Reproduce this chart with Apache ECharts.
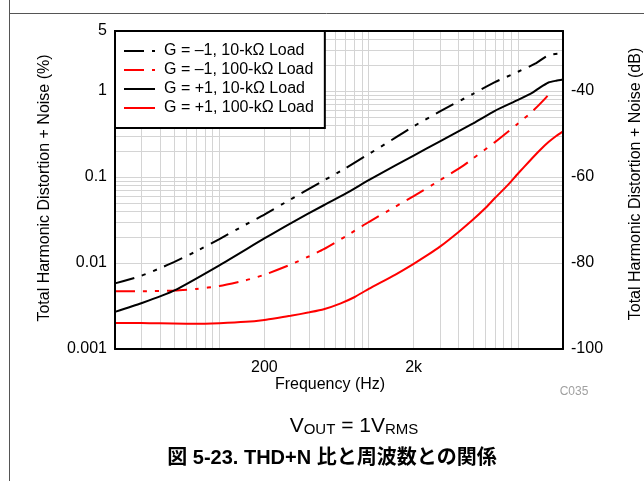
<!DOCTYPE html>
<html>
<head>
<meta charset="utf-8">
<script src="https://cdn.jsdelivr.net/npm/echarts@6/dist/echarts.min.js"></script>
<style>
html,body{margin:0;padding:0;background:#fff;}
#chart{width:644px;height:481px;}
</style>
</head>
<body>
<div id="chart"></div>
<script>
// ---- Data (frequency in Hz, THD+N in %) ----
const seriesNames = [
  'G = \u20131, 10-k\u03A9 Load',
  'G = \u20131, 100-k\u03A9 Load',
  'G = +1, 10-k\u03A9 Load',
  'G = +1, 100-k\u03A9 Load'
];
const freqNeg1_10k = [20, 30, 40, 50, 70, 100, 150, 200, 300, 500, 700, 1000, 1500, 2000, 3000, 5000, 7000, 10000, 13000, 16000, 20000];
const thdNeg1_10k  = [0.0058, 0.0071, 0.0087, 0.0103, 0.0137, 0.019, 0.028, 0.0366, 0.055, 0.091, 0.127, 0.185, 0.285, 0.39, 0.58, 0.93, 1.27, 1.68, 2.08, 2.62, 2.76];

const freqNeg1_100k = [20, 30, 50, 70, 100, 150, 200, 300, 400, 500, 700, 1000, 1500, 2000, 3000, 4300, 5000, 7000, 10000, 12600, 15000, 16800];
const thdNeg1_100k  = [0.0047, 0.0047, 0.0048, 0.0050, 0.0054, 0.0063, 0.0073, 0.0096, 0.0120, 0.0145, 0.0204, 0.030, 0.045, 0.060, 0.092, 0.136, 0.165, 0.255, 0.42, 0.59, 0.80, 1.0];

const freqPos1_10k = [20, 30, 50, 100, 200, 300, 500, 700, 1000, 1500, 2000, 3000, 5000, 7000, 10000, 12500, 14000, 16000, 18000, 20000];
const thdPos1_10k  = [0.0027, 0.0034, 0.0048, 0.0094, 0.0193, 0.029, 0.047, 0.064, 0.092, 0.136, 0.178, 0.26, 0.42, 0.59, 0.79, 0.96, 1.1, 1.26, 1.32, 1.36];

const freqPos1_100k = [20, 30, 40, 60, 80, 100, 150, 200, 250, 300, 400, 500, 650, 800, 1000, 1500, 2000, 2500, 3000, 4000, 5000, 6000, 7000, 8500, 10000, 12000, 14000, 16000, 18000, 20000];
const thdPos1_100k  = [0.00200, 0.00201, 0.00199, 0.00197, 0.00197, 0.00199, 0.00207, 0.00218, 0.00231, 0.00243, 0.00267, 0.0029, 0.0034, 0.0040, 0.0050, 0.0073, 0.0098, 0.0125, 0.0155, 0.023, 0.032, 0.043, 0.057, 0.080, 0.11, 0.155, 0.205, 0.255, 0.30, 0.34];

// ---- Axes / ticks ----
const xMin = 20, xMax = 20000;
const yMin = 0.001, yMax = 5;
const xTickLabels = [200, 2000];
const yTickLabels = [0.001, 0.01, 0.1, 1, 5];
const dbTickLabels = [-100, -80, -60, -40];
const xGrid = [30,40,50,60,70,80,90,100,200,300,400,500,600,700,800,900,1000,2000,3000,4000,5000,6000,7000,8000,9000,10000];
const yGrid = [0.002,0.003,0.004,0.005,0.006,0.007,0.008,0.009,0.01,0.02,0.03,0.04,0.05,0.06,0.07,0.08,0.09,0.1,0.2,0.3,0.4,0.5,0.6,0.7,0.8,0.9,1,2,3,4];

const FONT = 'Liberation Sans, Arial, Helvetica, sans-serif';
const dbMin = 20 * Math.log10(yMin / 100);
const dbMax = 20 * Math.log10(yMax / 100);

function pairs(f, v) { return f.map((x, i) => [x, v[i]]); }

const dashDot = [20, 8, 4, 8, 4, 8];

const chart = echarts.init(document.getElementById('chart'), null, {renderer: 'canvas'});
const option = {
  animation: false,
  backgroundColor: '#fff',
  grid: { left: 115, right: 81, top: 31, bottom: 132, containLabel: false, show: false },
  legend: {
    data: seriesNames,
    orient: 'vertical',
    left: 115, top: 31, z: 6,
    itemWidth: 31, itemHeight: 14, itemGap: 3,
    padding: [12, 11, 12, 8],
    backgroundColor: '#fff',
    borderColor: '#000', borderWidth: 2, borderRadius: 0,
    selectedMode: false,
    itemStyle: { opacity: 0 },
    textStyle: { fontSize: 16, color: '#000', fontFamily: FONT, padding: [0, 0, 0, 4] }
  },
  xAxis: [
    {
      type: 'log', logBase: 10, min: xMin, max: xMax, position: 'bottom', z: 10,
      axisLine: { show: true, onZero: false, lineStyle: { color: '#000', width: 2 } },
      axisTick: { show: false }, splitLine: { show: false }, minorSplitLine: { show: false },
      axisLabel: {
        customValues: xTickLabels, margin: 11, fontSize: 16, color: '#000', fontFamily: FONT,
        formatter: v => (v >= 1000 ? (v / 1000) + 'k' : String(v))
      }
    },
    {
      type: 'log', logBase: 10, min: xMin, max: xMax, position: 'top', z: 10,
      axisLine: { show: true, onZero: false, lineStyle: { color: '#000', width: 2 } },
      axisTick: { show: false }, splitLine: { show: false }, axisLabel: { show: false }
    }
  ],
  yAxis: [
    {
      type: 'log', logBase: 10, min: yMin, max: yMax, position: 'left', z: 10,
      axisLine: { show: true, onZero: false, lineStyle: { color: '#000', width: 2 } },
      axisTick: { show: false }, splitLine: { show: false },
      axisLabel: {
        customValues: yTickLabels, margin: 8, fontSize: 16, color: '#000', fontFamily: FONT,
        formatter: v => String(v)
      }
    },
    {
      type: 'value', min: dbMin, max: dbMax, position: 'right', z: 10,
      axisLine: { show: true, onZero: false, lineStyle: { color: '#000', width: 2 } },
      axisTick: { show: false }, splitLine: { show: false },
      axisLabel: {
        customValues: dbTickLabels, margin: 8, fontSize: 16, color: '#000', fontFamily: FONT,
        formatter: v => String(Math.round(v))
      }
    }
  ],
  series: [
    {
      name: 'grid', type: 'line', data: [], z: 1, silent: true,
      xAxisIndex: 0, yAxisIndex: 0,
      markLine: {
        silent: true, symbol: ['none', 'none'], animation: false, z: 1,
        label: { show: false },
        lineStyle: { color: '#d4d4d4', width: 1, type: 'solid' },
        emphasis: { disabled: true },
        data: xGrid.map(v => ({ xAxis: v })).concat(yGrid.map(v => ({ yAxis: v })))
      }
    },
    {
      name: seriesNames[0], type: 'line', data: pairs(freqNeg1_10k, thdNeg1_10k),
      xAxisIndex: 0, yAxisIndex: 0, showSymbol: false, symbol: 'none', smooth: 0.2, z: 3,
      lineStyle: { color: '#000', width: 2, type: dashDot, cap: 'butt' },
      itemStyle: { color: '#000' }
    },
    {
      name: seriesNames[1], type: 'line', data: pairs(freqNeg1_100k, thdNeg1_100k),
      xAxisIndex: 0, yAxisIndex: 0, showSymbol: false, symbol: 'none', smooth: 0.2, z: 3,
      lineStyle: { color: '#ff0000', width: 2, type: dashDot, cap: 'butt' },
      itemStyle: { color: '#ff0000' }
    },
    {
      name: seriesNames[2], type: 'line', data: pairs(freqPos1_10k, thdPos1_10k),
      xAxisIndex: 0, yAxisIndex: 0, showSymbol: false, symbol: 'none', smooth: 0.2, z: 3,
      lineStyle: { color: '#000', width: 2, type: 'solid' },
      itemStyle: { color: '#000' }
    },
    {
      name: seriesNames[3], type: 'line', data: pairs(freqPos1_100k, thdPos1_100k),
      xAxisIndex: 0, yAxisIndex: 0, showSymbol: false, symbol: 'none', smooth: 0.2, z: 3,
      lineStyle: { color: '#ff0000', width: 2, type: 'solid' },
      itemStyle: { color: '#ff0000' }
    }
  ],
  graphic: [
    { type: 'line', silent: true, shape: { x1: 9.5, y1: 0, x2: 9.5, y2: 481 }, style: { stroke: '#555', lineWidth: 1 } },
    { type: 'line', silent: true, shape: { x1: 9, y1: 13.5, x2: 644, y2: 13.5 }, style: { stroke: '#555', lineWidth: 1 } },
    {
      type: 'text', x: 45, y: 188, rotation: Math.PI / 2, silent: true,
      style: { text: 'Total Harmonic Distortion + Noise (%)', x: 0, y: 0, align: 'center', verticalAlign: 'middle', fontSize: 16, fill: '#000', fontFamily: FONT }
    },
    {
      type: 'text', x: 636, y: 184, rotation: Math.PI / 2, silent: true,
      style: { text: 'Total Harmonic Distortion + Noise (dB)', x: 0, y: 0, align: 'center', verticalAlign: 'middle', fontSize: 16, fill: '#000', fontFamily: FONT }
    },
    {
      type: 'text', x: 330, y: 385, silent: true,
      style: { text: 'Frequency (Hz)', align: 'center', verticalAlign: 'middle', fontSize: 16, fill: '#000', fontFamily: FONT }
    },
    {
      type: 'text', x: 574, y: 392, silent: true,
      style: { text: 'C035', align: 'center', verticalAlign: 'middle', fontSize: 12, fill: '#a0a0a0', fontFamily: FONT }
    },
    {
      type: 'text', x: 354, y: 425, silent: true,
      style: {
        text: '{m|V}{s|OUT}{m| = 1V}{s|RMS}',
        align: 'center', verticalAlign: 'middle', fill: '#000', fontFamily: FONT,
        rich: {
          m: { fontSize: 21, lineHeight: 24, verticalAlign: 'bottom', fontFamily: FONT, fill: '#000' },
          s: { fontSize: 15, lineHeight: 14, verticalAlign: 'bottom', fontFamily: FONT, fill: '#000' }
        }
      }
    },
    {
      type: 'text', x: 332, y: 458, silent: true,
      style: { text: '図 5-23. THD+N 比と周波数との関係', align: 'center', verticalAlign: 'middle', fontSize: 20, fontWeight: 'bold', fill: '#000', fontFamily: 'Liberation Sans, Arial, "Noto Sans CJK JP", sans-serif' }
    }
  ]
};
chart.setOption(option);
</script>
</body>
</html>
